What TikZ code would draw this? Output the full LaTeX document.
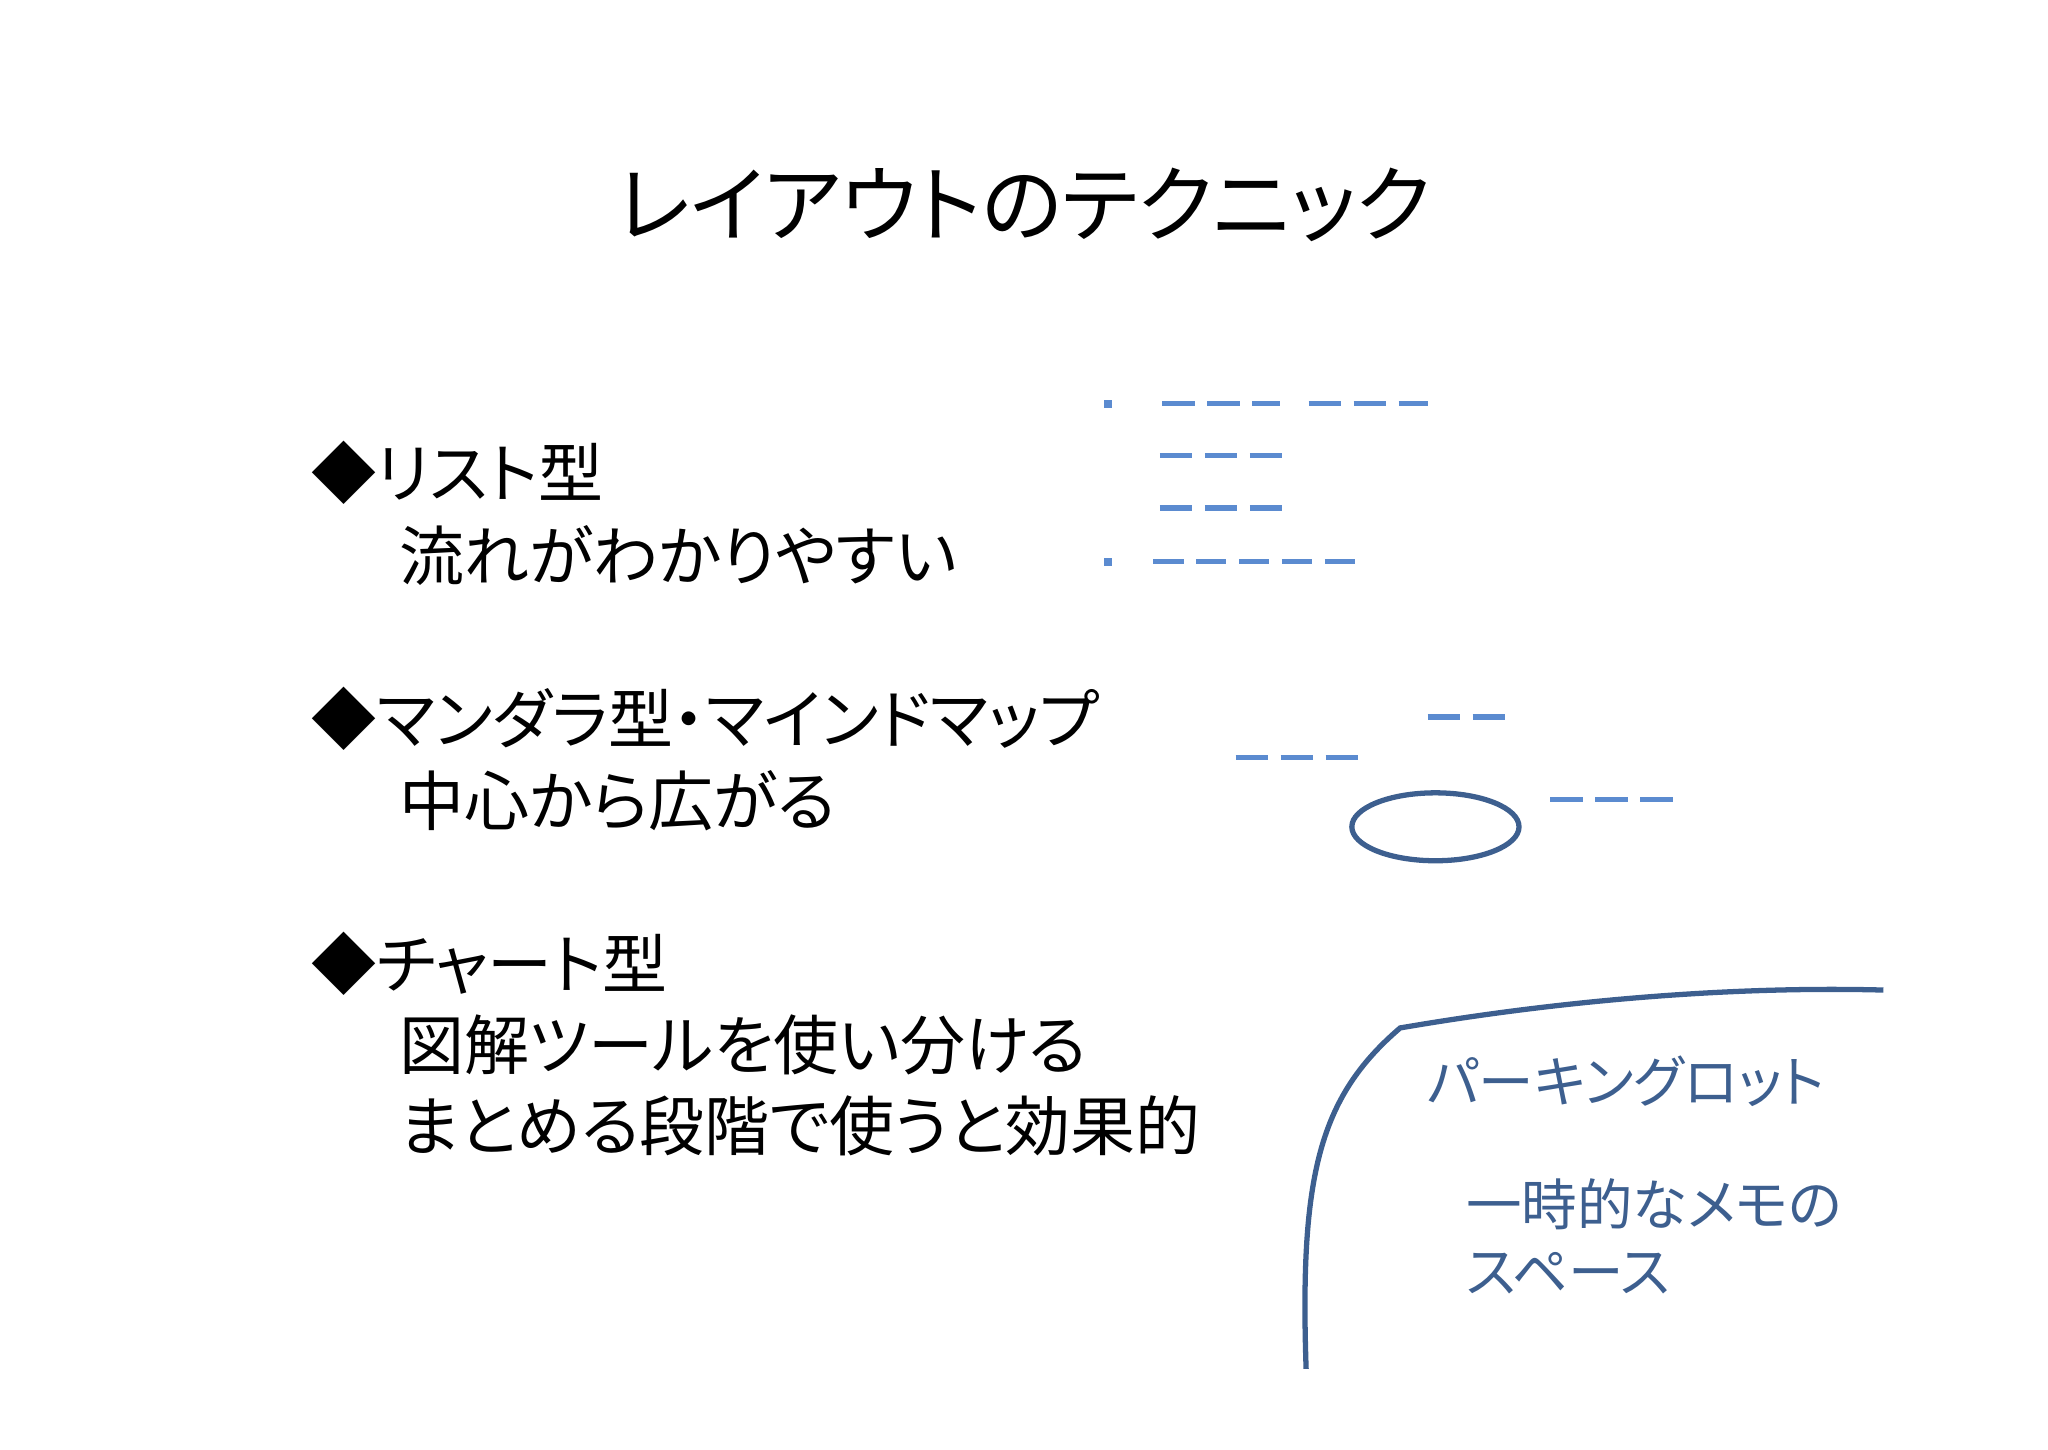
\documentclass[tikz,border=0pt]{standalone}
\usepackage{fontspec}
\setmainfont{Noto Sans CJK JP}[RawFeature=+palt]
\definecolor{lb}{HTML}{5B8BD0}
\definecolor{db}{HTML}{3D5F8F}
\begin{document}
\begin{tikzpicture}[x=0.01306cm,y=-0.01306cm,
  body/.style={anchor=west,inner sep=0,font=\fontsize{18.5}{22}\selectfont},
  park/.style={anchor=west,inner sep=0,text=db,font=\fontsize{15.8}{19}\selectfont},
  dsh/.style={draw=lb,line width=1.5pt,dash pattern=on 9.2pt off 3.6pt},
  dshs/.style={draw=lb,line width=1.5pt,dash pattern=on 8.6pt off 3.6pt}]
\useasboundingbox (0,0) rectangle (1568,1110);
\node[inner sep=0,font=\fontsize{23.8}{28}\selectfont] (title) at (784,157) {レイアウトのテクニック};
\node[body] (l1) at (238,362) {◆リスト型};
\node[body] (l2) at (305,425) {流れがわかりやすい};
\node[body] (m1) at (238,550) {◆マンダラ型・マインドマップ};
\node[body] (m2) at (305,613) {中心から広がる};
\node[body] (c1) at (238,738) {◆チャート型};
\node[body] (c2) at (305,800) {図解ツールを使い分ける};
\node[body] (c3) at (305,862) {まとめる段階で使うと効果的};
\fill[lb] (845,306) rectangle (851,312);
\fill[lb] (845,427) rectangle (851,433);
\draw[dsh] (890,309) -- (980,309);
\draw[dsh] (1002,309) -- (1093,309);
\draw[dsh] (888,349) -- (982,349);
\draw[dsh] (888,389) -- (982,389);
\draw[dshs] (883,430) -- (1044,430);
\draw[dsh] (1093,549) -- (1153,549);
\draw[dsh] (946,580) -- (1040,580);
\draw[dsh] (1187,612) -- (1281,612);
\draw[db,line width=1.5pt] (1099,633) ellipse [x radius=64,y radius=26];
\draw[db,line width=1.5pt] (1000,1048) .. controls (995,900) and (1010,840) .. (1072,787) .. controls (1200,765) and (1330,755) .. (1442,758);
\node[park] (p1) at (1092,828) {パーキングロット};
\node[park] (p2) at (1122,922) {一時的なメモの};
\node[park] (p3) at (1122,975) {スペース};
\end{tikzpicture}
\end{document}
